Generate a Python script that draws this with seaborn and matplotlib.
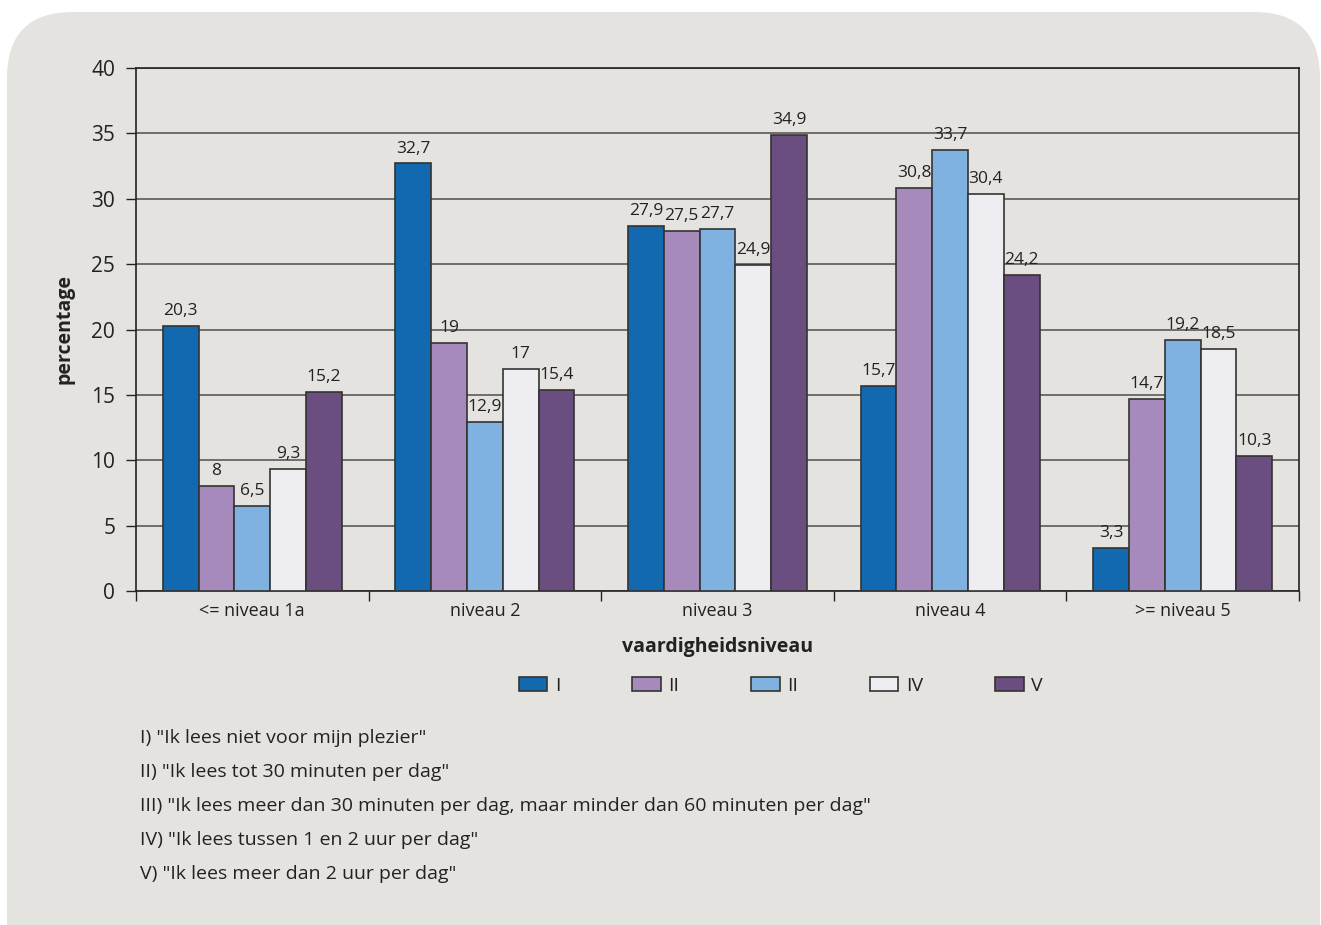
import matplotlib
matplotlib.use("Agg")
import matplotlib.pyplot as plt
from matplotlib.patches import FancyBboxPatch, Patch
import seaborn as sns
import pandas as pd

# Data: percentage of students per skill level, by daily reading time
levels = ["<= niveau 1a", "niveau 2", "niveau 3", "niveau 4", ">= niveau 5"]
groups = ["I", "II", "III", "IV", "V"]
legend_labels = ["I", "II", "II", "IV", "V"]
values_I = [20.3, 32.7, 27.9, 15.7, 3.3]
values_II = [8, 19, 27.5, 30.8, 14.7]
values_III = [6.5, 12.9, 27.7, 33.7, 19.2]
values_IV = [9.3, 17, 24.9, 30.4, 18.5]
values_V = [15.2, 15.4, 34.9, 24.2, 10.3]
colors = ["#1269b0", "#a68abc", "#7fb2e0", "#eeedf2", "#6a4e80"]
footnotes = [
    'I) "Ik lees niet voor mijn plezier"',
    'II) "Ik lees tot 30 minuten per dag"',
    'III) "Ik lees meer dan 30 minuten per dag, maar minder dan 60 minuten per dag"',
    'IV) "Ik lees tussen 1 en 2 uur per dag"',
    'V) "Ik lees meer dan 2 uur per dag"',
]

series = [values_I, values_II, values_III, values_IV, values_V]
df = pd.DataFrame(
    [(lvl, g, v) for g, vals in zip(groups, series) for lvl, v in zip(levels, vals)],
    columns=["niveau", "groep", "percentage"],
)

sns.set_theme(style="white")
plt.rcParams["font.family"] = ["Open Sans", "DejaVu Sans"]
BG = "#e4e3df"
INK = "#222222"
FS = 14

fig = plt.figure(figsize=(13.21, 9.25), dpi=100)
fig.patch.set_facecolor("white")

# Rounded panel behind everything
W, H = 1321, 925
panel = FancyBboxPatch(
    (7 / W, -0.2), (1320 - 7) / W, 1.2 - 12 / H,
    boxstyle="round,pad=0,rounding_size=0.05",
    transform=fig.transFigure, facecolor=BG, edgecolor="none",
    mutation_aspect=W / H, zorder=-5,
)
fig.patches.append(panel)

ax = fig.add_axes([136 / W, 1 - 591 / H, (1299 - 136) / W, (591 - 68) / H])
ax.set_facecolor(BG)

sns.barplot(
    data=df, x="niveau", y="percentage", hue="groep",
    order=levels, hue_order=groups, palette=colors,
    width=0.77, edgecolor="#333333", linewidth=1.2,
    saturation=1, errorbar=None, legend=False, ax=ax, zorder=3,
)

for cont in ax.containers:
    labels = [f"{v:g}".replace(".", ",") for v in cont.datavalues]
    ax.bar_label(cont, labels=labels, padding=5, fontsize=12.5, color=INK)

ax.set_ylim(0, 40)
ax.set_xlim(-0.5, 4.5)
ax.set_yticks(range(0, 41, 5))
ax.yaxis.grid(True, color="#5a5a5a", linewidth=1.2, zorder=1)
ax.set_axisbelow(True)

ax.set_xticks([i - 0.5 for i in range(6)], minor=False)
ax.set_xticklabels([])
ax.set_xticks(range(5), minor=True)
ax.set_xticklabels(levels, minor=True, fontsize=13, color=INK)
ax.tick_params(axis="x", which="major", direction="out", length=7, width=1,
               color=INK, bottom=True)
ax.tick_params(axis="x", which="minor", length=0, pad=8)
ax.tick_params(axis="y", direction="out", length=7, width=1, color=INK,
               left=True, labelsize=FS + 1, labelcolor=INK, pad=8)

for side in ["left", "bottom", "top", "right"]:
    ax.spines[side].set_visible(True)
    ax.spines[side].set_color(INK)
    ax.spines[side].set_linewidth(1.2)

ax.set_xlabel("vaardigheidsniveau", fontsize=FS, fontweight="bold",
              color=INK, labelpad=12)
ax.set_ylabel("percentage", fontsize=FS, fontweight="bold", color=INK,
              labelpad=12)

handles = [Patch(facecolor=c, edgecolor="#333333", linewidth=1.2) for c in colors]
fig.legend(
    handles, legend_labels, loc="center", bbox_to_anchor=(781 / W, 1 - 686 / H),
    ncol=5, frameon=False, fontsize=FS, handlelength=1.45, handleheight=0.72,
    handletextpad=0.4, columnspacing=3.7, labelcolor=INK,
)

for i, txt in enumerate(footnotes):
    fig.text(140 / W, 1 - (738 + 34 * i) / H, txt, fontsize=FS,
             color=INK, va="center", ha="left")

fig.savefig("out.png", dpi=100, facecolor=fig.get_facecolor())
